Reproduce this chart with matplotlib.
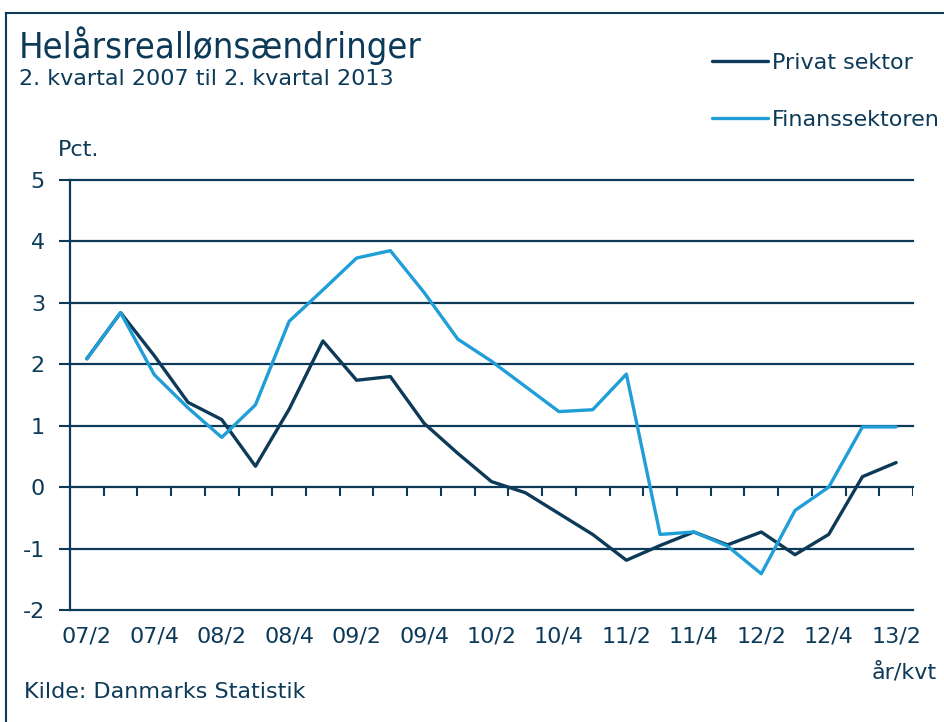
import matplotlib
matplotlib.use("Agg")
import matplotlib.pyplot as plt
from matplotlib.lines import Line2D
import numpy as np

categories = ["07/2", "07/3", "07/4", "08/1", "08/2", "08/3", "08/4", "09/1", "09/2",
              "09/3", "09/4", "10/1", "10/2", "10/3", "10/4", "11/1", "11/2", "11/3",
              "11/4", "12/1", "12/2", "12/3", "12/4", "13/1", "13/2"]
privat = [2.09, 2.84, 2.14, 1.38, 1.10, 0.34, 1.27, 2.38, 1.74, 1.80, 1.04, 0.55, 0.09,
          -0.09, -0.43, -0.77, -1.19, -0.95, -0.73, -0.94, -0.73, -1.10, -0.77, 0.17, 0.40]
finans = [2.09, 2.84, 1.83, 1.29, 0.81, 1.34, 2.70, 3.21, 3.73, 3.85, 3.17, 2.41, 2.05,
          1.64, 1.23, 1.26, 1.84, -0.77, -0.73, -0.96, -1.41, -0.38, 0.00, 0.98, 0.98]
yticks = [-2, -1, 0, 1, 2, 3, 4, 5]

plt.rcParams["font.family"] = ["DejaVu Sans"]

navy = "#0c3a58"
light = "#1f9ed8"
txt = "#0c3a58"
fs = 16

fig = plt.figure(figsize=(9.44, 7.22), dpi=100)
ax = fig.add_axes([70/944, 1-610/722, (913-70)/944, (610-180)/722])

x = np.arange(len(categories))
ax.plot(x, privat, color=navy, lw=2.4, label="Privat sektor", solid_capstyle="round", zorder=3)
ax.plot(x, finans, color=light, lw=2.4, label="Finanssektoren", solid_capstyle="round", zorder=3)

ax.set_xlim(-0.5, len(categories) - 0.5)
ax.set_ylim(-2, 5)
ax.set_yticks(yticks)
ax.set_yticklabels([str(v) for v in yticks], fontsize=fs, color=txt)
for v in yticks:
    ax.axhline(v, color=navy, lw=1.6, zorder=1, clip_on=False)
ax.tick_params(axis="y", length=8, width=1.5, color=navy, pad=10)

ax.set_xticks(x[::2])
ax.set_xticklabels(categories[::2], fontsize=fs, color=txt)
ax.tick_params(axis="x", length=0, pad=12)
for b in np.arange(0.5, len(categories), 1.0):
    ax.plot([b, b], [0, -0.13], color=navy, lw=1.5, zorder=2)

for s in ["top", "right", "bottom"]:
    ax.spines[s].set_visible(False)
ax.spines["left"].set_color(navy)
ax.spines["left"].set_linewidth(1.6)

fig.text(19/944, 1-46/722, "Helårsreallønsændringer", fontsize=26, fontstretch="condensed",
         color=txt, va="center", ha="left")
fig.text(19/944, 1-79/722, "2. kvartal 2007 til 2. kvartal 2013", fontsize=fs, color=txt,
         va="center", ha="left")
fig.text(58/944, 1-150/722, "Pct.", fontsize=fs, color=txt, va="center", ha="left")
fig.text(937/944, 1-672/722, "år/kvt", fontsize=fs, color=txt, va="center", ha="right")
fig.text(24/944, 1-692/722, "Kilde: Danmarks Statistik", fontsize=fs, color=txt, va="center", ha="left")

leg = fig.legend(loc="upper left", bbox_to_anchor=(712/944, 1-53/722), frameon=False,
                 fontsize=fs, labelspacing=1.66, handlelength=2.5, handletextpad=0.2,
                 borderaxespad=0, borderpad=0)
for t in leg.get_texts():
    t.set_color(txt)

fig.add_artist(Line2D([6/944, 6/944], [0, 1-13/722], color=navy, lw=1.5, transform=fig.transFigure))
fig.add_artist(Line2D([6/944, 1], [1-13/722, 1-13/722], color=navy, lw=1.5, transform=fig.transFigure))

fig.savefig("out.png", dpi=100)
